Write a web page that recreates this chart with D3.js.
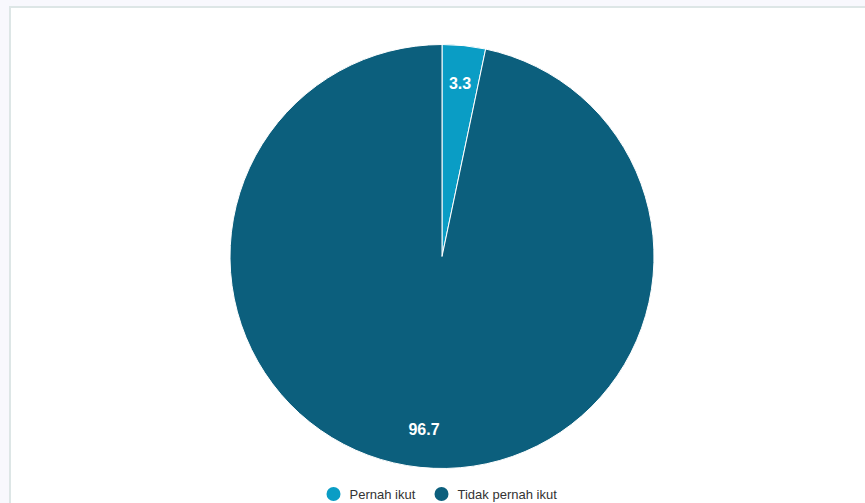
<!DOCTYPE html>
<html>
<head>
<meta charset="utf-8">
<script src="https://cdn.jsdelivr.net/npm/d3@7"></script>
<style>
  html, body { margin: 0; padding: 0; background: #f8f8fd; }
  svg { display: block; }
</style>
</head>
<body>
<svg id="chart" width="865" height="503"></svg>
<script>
// Survey answers and their shares (%)
const categories = ["Pernah ikut", "Tidak pernah ikut"];
const values = [3.3, 96.7];
const colors = ["#0a9dc5", "#0c5f7d"];

const svg = d3.select("#chart");
const W = 865, H = 503;
const FONT = "'Liberation Sans', Arial, Helvetica, sans-serif";

// white card with a thin border
svg.append("rect")
  .attr("x", 10).attr("y", 7)
  .attr("width", W).attr("height", H)
  .attr("fill", "#ffffff")
  .attr("stroke", "#dde6e6")
  .attr("stroke-width", 2);

const cx = 442, cy = 256.5, R = 212;
const g = svg.append("g").attr("transform", `translate(${cx},${cy})`);

const pie = d3.pie().sort(null).value(d => d.v);
const data = pie(categories.map((c, i) => ({ c, v: values[i], color: colors[i] })));

const arc = d3.arc().innerRadius(0).outerRadius(R);
const labelArc = d3.arc().innerRadius(174).outerRadius(174);

g.selectAll("path.slice")
  .data(data)
  .join("path")
  .attr("class", "slice")
  .attr("d", arc)
  .attr("fill", d => d.data.color)
  .attr("stroke", "#ffffff")
  .attr("stroke-width", 1);

g.selectAll("text.val")
  .data(data)
  .join("text")
  .attr("class", "val")
  .attr("transform", d => `translate(${labelArc.centroid(d)})`)
  .attr("text-anchor", "middle")
  .attr("dominant-baseline", "central")
  .attr("font-family", FONT)
  .attr("font-weight", "bold")
  .attr("font-size", 16)
  .attr("fill", "#ffffff")
  .text(d => d.data.v.toFixed(1));

// legend
const legendItems = [
  { x: 333.5, i: 0 },
  { x: 441.5, i: 1 }
];
const lg = svg.append("g");
legendItems.forEach(it => {
  lg.append("circle")
    .attr("cx", it.x).attr("cy", 494).attr("r", 7)
    .attr("fill", colors[it.i]);
  lg.append("text")
    .attr("x", it.x + 16).attr("y", 494)
    .attr("dominant-baseline", "central")
    .attr("font-family", FONT)
    .attr("font-size", 13)
    .attr("fill", "#333333")
    .text(categories[it.i]);
});
</script>
</body>
</html>
